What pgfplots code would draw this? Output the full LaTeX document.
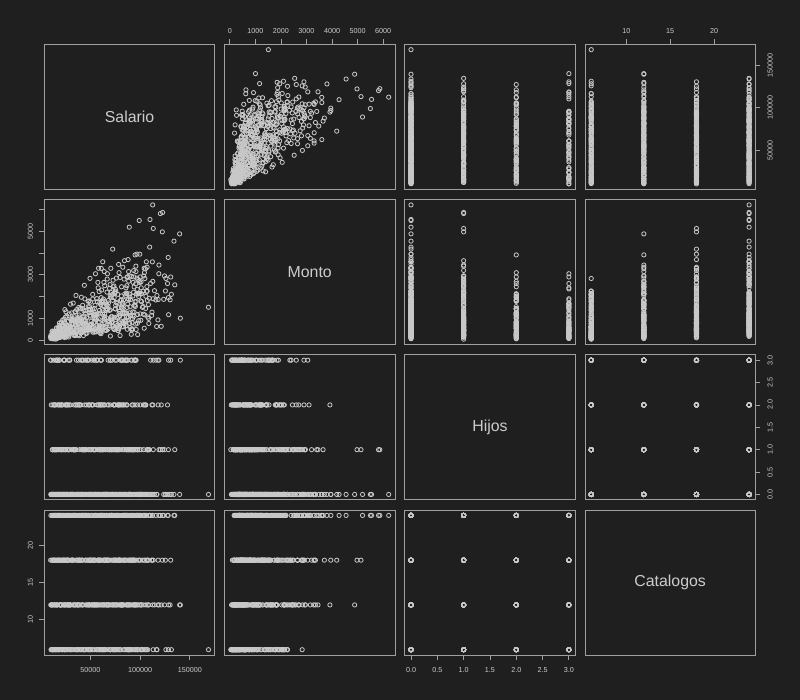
\documentclass[border=0pt]{standalone}
\usepackage{fontspec}
\setmainfont{Liberation Sans}
\usepackage{pgfplots}
\usepackage{pgfplotstable}
\pgfplotsset{compat=1.18}
\definecolor{bg}{HTML}{1F1F1F}
\definecolor{fg}{HTML}{C8C8C8}
\definecolor{frm}{HTML}{A0A0A0}
\definecolor{txt}{HTML}{CCCCCC}

\pgfplotstableread{
S M H C
11200 73 0 6
13500 133 1 6
15800 245 0 6
17100 95 2 6
19400 355 0 6
21700 229 1 6
23900 115 3 6
25600 410 0 6
28300 142 1 6
30900 400 0 6
33400 239 2 6
36100 377 3 6
38800 195 0 6
41500 387 0 6
44200 487 1 6
46700 316 0 6
49300 548 2 6
51800 567 0 6
54400 364 1 6
57100 454 3 6
59600 322 0 6
62300 633 1 6
64900 619 0 6
67500 842 2 6
70200 183 3 6
72800 646 0 6
75400 934 0 6
78100 430 1 6
80600 1231 0 6
83300 615 2 6
85900 653 0 6
88400 1053 1 6
91200 263 3 6
94100 1095 0 6
97300 768 1 6
101500 1765 0 6
12400 55 2 6
14900 92 3 6
18600 278 0 6
22300 168 0 6
26800 392 1 6
31700 368 0 6
35200 203 2 6
39900 599 0 6
43100 204 1 6
47800 586 0 6
52600 358 2 6
56300 560 3 6
60800 292 0 6
65400 584 0 6
69700 738 1 6
74100 481 0 6
79200 847 2 6
84600 892 0 6
89800 579 1 6
95500 733 3 6
104200 543 0 6
107800 1059 1 6
168800 1508 0 6
126000 2831 0 6
131500 2100 0 6
128500 1950 1 6
117000 2050 0 6
100800 1800 0 6
88200 1900 0 6
75500 1600 1 6
62900 1350 0 6
50300 1100 0 6
113200 1900 3 6
41200 880 0 6
30400 560 0 6
98500 2150 0 6
92700 2020 1 6
105600 1450 2 6
79900 205 0 6
97600 250 1 6
116700 623 0 6
15200 38 1 6
10800 147 2 12
12900 173 0 12
14200 293 1 12
16400 80 3 12
18900 362 0 12
20800 267 1 12
23300 650 0 12
25900 133 2 12
27700 207 3 12
29500 559 0 12
32600 320 0 12
34900 683 1 12
37500 594 0 12
40600 323 2 12
42900 895 0 12
45500 301 1 12
48200 457 3 12
50900 699 0 12
53300 1164 1 12
55800 381 0 12
58500 523 2 12
61100 599 3 12
63700 593 0 12
66200 1455 0 12
68800 888 1 12
71500 783 0 12
73900 1043 2 12
76600 579 0 12
79400 1131 1 12
81900 603 3 12
84700 2123 0 12
87200 495 1 12
90000 1125 0 12
92800 1136 2 12
96100 483 3 12
99400 2145 0 12
103100 1539 0 12
108600 993 1 12
114500 2270 0 12
121300 630 2 12
128700 1165 3 12
11700 198 0 12
15300 389 1 12
19800 151 0 12
24600 238 2 12
29100 304 3 12
33800 331 0 12
38200 872 0 12
42100 561 1 12
46300 521 0 12
51500 743 2 12
57400 440 0 12
62800 905 1 12
67900 504 3 12
72300 1826 0 12
77800 444 1 12
82500 1035 0 12
86900 1066 2 12
91700 462 3 12
97900 2114 0 12
139800 4885 0 12
140500 1003 3 12
95000 3917 2 12
88500 3150 0 12
76200 2850 1 12
105400 3280 0 12
64500 2500 0 12
58900 2230 1 12
112800 2700 2 12
124600 2950 1 12
130200 1850 0 12
48700 1800 0 12
54100 1450 3 12
118000 926 3 12
10100 155 3 18
13200 280 0 18
16100 528 1 18
18300 185 0 18
21200 276 2 18
24200 342 3 18
26900 359 0 18
30200 942 0 18
33100 603 1 18
35700 550 0 18
39300 777 2 18
41900 442 0 18
44800 889 1 18
47400 485 3 18
50200 1746 0 18
52900 416 1 18
55100 954 0 18
58000 982 2 18
60400 420 3 18
63200 1885 0 18
65800 1357 0 18
68300 864 1 18
70900 1944 0 18
73400 528 2 18
76000 1732 0 18
78800 1220 1 18
81200 1523 3 18
83900 762 0 18
86400 1250 1 18
89100 2121 0 18
92100 803 2 18
95200 1540 3 18
98600 2006 0 18
102400 1503 0 18
106900 2460 1 18
111700 1133 0 18
118200 1862 2 18
125500 2257 0 18
12000 413 1 18
17600 98 3 18
22800 421 0 18
27900 602 1 18
32000 420 0 18
36900 794 2 18
40800 474 3 18
45900 695 0 18
49700 1384 0 18
54000 477 1 18
59200 1362 0 18
64100 823 2 18
69300 2378 0 18
74800 580 1 18
80100 752 3 18
85600 2040 0 18
90900 963 1 18
96800 2847 0 18
113300 5133 1 18
122400 4977 1 18
72500 4183 0 18
82700 3350 0 18
93600 3200 1 18
67200 3050 0 18
104100 3300 0 18
130800 2900 3 18
57600 2650 0 18
61400 2300 1 18
88000 3700 0 18
99700 3950 0 18
49700 2839 0 18
58300 3300 0 18
25500 1300 0 18
11500 389 0 24
14000 169 2 24
16900 369 3 24
19100 518 0 24
22000 425 0 24
24900 747 1 24
27200 357 0 24
29900 607 2 24
32900 758 0 24
35400 1295 1 24
38100 240 3 24
40300 861 0 24
43600 1104 1 24
46100 718 0 24
48800 1254 2 24
51200 714 3 24
53900 985 0 24
56600 1906 0 24
59000 632 1 24
61700 1726 0 24
64400 1007 2 24
67000 2804 0 24
69500 659 1 24
72100 828 3 24
74600 2178 0 24
77300 1004 1 24
79900 2882 0 24
82800 1446 2 24
85100 843 3 24
87700 2914 0 24
90500 1127 0 24
93400 2195 1 24
96500 2133 0 24
100200 2903 2 24
104800 1156 0 24
109300 1919 1 24
115900 1842 3 24
123800 1872 0 24
134900 2538 1 24
13100 372 0 24
18000 248 2 24
23500 459 3 24
28600 374 0 24
34200 836 1 24
39100 893 0 24
44500 1892 0 24
50000 479 1 24
55500 1169 0 24
60100 1237 2 24
66300 1018 0 24
71000 2185 1 24
76400 1051 3 24
81700 1473 0 24
87000 2891 0 24
92400 977 1 24
99000 2733 0 24
112700 6217 0 24
120400 5820 1 24
122700 5870 1 24
110000 5546 0 24
99200 5500 0 24
89200 5193 0 24
134100 4550 0 24
109700 4275 0 24
78500 3480 0 24
95800 3400 1 24
84300 3650 1 24
70600 3300 0 24
106300 3600 0 24
64000 3150 0 24
118900 3050 3 24
128300 3800 0 24
127600 2600 2 24
44000 2517 0 24
41000 1967 1 24
30100 1650 0 24
35600 2050 0 24
55200 3050 0 24
62500 3600 0 24
96900 3954 0 24
61000 3297 0 24
10500 120 0 6
11900 210 1 12
12600 340 0 24
13800 95 2 6
14600 260 0 18
15500 410 1 24
16200 180 3 12
17800 520 0 24
18400 140 0 6
19700 300 2 18
20300 450 0 12
21100 230 1 6
22600 610 0 24
23200 170 3 18
24000 380 0 12
25300 290 1 6
26100 700 0 24
27000 210 2 12
28000 480 0 18
29200 330 1 6
10300 70 3 12
11400 160 0 18
12200 250 1 24
13300 60 0 6
14100 190 2 12
15000 310 0 24
16600 130 1 6
17300 240 0 18
18700 390 3 24
19300 110 0 12
20900 820 0 24
23700 950 1 18
26500 1100 0 24
31200 1250 0 18
33000 980 1 24
36400 1400 0 24
38900 1150 2 18
42300 1600 0 24
45200 1350 1 18
47900 1780 0 24
52400 2100 0 24
54800 1600 1 18
57900 2400 0 18
60900 1950 2 24
63600 2650 0 24
66800 2200 1 18
69900 2550 0 12
72900 2750 1 24
75100 2350 3 18
78900 3100 0 24
81400 2450 2 12
84000 2800 0 18
86800 2500 1 24
89600 2950 0 12
93000 2650 1 18
95900 3150 0 24
101200 2400 0 12
103700 2950 1 24
107200 2250 0 18
110600 2600 3 24
10900 137 0 12
14600 371 0 24
18300 306 1 6
22000 710 2 18
25700 179 0 24
29400 579 3 12
33100 911 1 18
36800 455 0 12
40500 1468 0 24
44200 757 2 6
47900 481 1 18
51600 1288 0 24
55300 1156 0 12
59000 817 1 18
62700 1806 2 12
66400 448 0 24
70100 1382 3 6
73800 2485 1 18
77500 670 0 24
81200 1836 0 12
84900 1239 2 18
88600 2708 1 12
92300 512 0 24
96000 1778 0 6
99700 2642 1 18
103400 1187 2 24
107100 3350 0 12
12700 253 3 18
16400 198 1 12
20100 532 0 24
23800 526 0 6
27500 408 2 18
31200 924 1 24
34900 259 0 12
38600 783 0 18
42300 1446 1 12
46000 418 2 24
49700 1143 0 6
53400 798 3 18
57100 1763 1 24
60800 354 0 12
64500 1211 0 18
68200 1823 2 12
71900 841 1 24
75600 2250 0 6
79300 1319 0 18
83000 797 1 24
86700 2131 2 12
90400 1858 0 18
94100 1273 3 12
97800 2788 1 24
11800 121 0 6
15500 345 0 18
19200 684 2 24
22900 233 1 12
26600 635 0 18
30300 474 0 12
34000 1070 1 24
37700 239 2 6
41400 795 0 18
45100 1223 3 24
48800 587 1 12
52500 1888 0 18
56200 949 0 12
59900 589 2 24
63600 1576 1 6
67300 1396 0 18
71000 973 0 24
74700 2142 1 12
78400 520 2 18
82100 1610 0 12
85800 2400 3 24
89500 766 1 6
13600 349 0 18
17300 292 0 24
21000 680 2 12
24700 174 1 18
28400 561 0 12
32100 885 0 24
35800 444 1 6
39500 1433 2 18
43200 741 0 24
46900 472 3 12
50600 1264 1 18
54300 1136 0 12
58000 804 0 24
61700 1778 2 6
65400 442 1 18
69100 1363 0 24
72800 2452 0 12
76500 662 1 18
80200 1814 2 12
83900 1225 0 24
87600 1650 3 6
91300 507 1 18
95000 1760 0 24
101000 2676 0 12
112000 1282 2 18
119000 3450 1 12
10400 216 0 24
12100 159 0 6
13900 384 1 18
15100 352 2 24
16800 268 0 12
18900 579 3 18
20600 174 1 12
22400 476 0 24
24200 849 0 6
26000 258 2 18
27900 664 1 24
29800 467 0 12
31600 998 0 18
33500 218 1 12
35500 689 2 24
37300 1020 0 6
41900 1048 3 18
45600 775 1 24
49300 1528 0 12
53000 636 0 18
56700 1191 2 12
60400 1631 1 24
64100 962 0 6
67800 1559 0 18
71500 2074 1 24
75200 1429 2 12
78900 789 0 18
82600 1700 3 12
86300 2158 1 24
90000 1530 0 6
93700 2905 0 18
97400 1169 2 24
101100 2123 1 12
104800 2830 0 18
108500 1628 0 12
62000 1426 1 24
70000 2030 2 6
78000 1482 0 18
86000 860 3 24
94000 2444 1 12
36300 508 0 18
39200 1058 1 12
42100 379 0 24
45000 945 0 6
47900 1533 2 24
50800 864 1 18
53700 1289 0 12
56600 679 3 24
59500 1726 0 6
62400 1186 0 24
65300 457 1 18
68200 1705 0 12
71100 1067 0 24
74000 1950 2 6
76900 1692 1 24
79800 1117 0 18
82700 1680 3 12
85600 770 0 24
88500 1859 0 6
91400 2925 1 24
94300 1603 0 18
97200 2333 1 12
100100 1201 0 24
103000 2250 0 6
105900 2012 2 24
108800 762 1 18
37700 943 0 12
40600 609 0 24
43500 1349 1 6
46400 1021 0 24
49300 690 0 18
52200 1409 2 12
55100 496 1 24
58000 1218 0 6
60900 1650 3 24
63800 1085 0 18
66700 1601 0 12
69600 835 1 24
72500 2103 0 6
75400 1433 0 24
78300 548 2 18
81200 2030 1 12
84100 1262 0 24
87000 1500 3 6
89900 1978 0 24
92800 1299 0 18
95700 2584 1 12
98600 887 0 24
101500 2132 0 6
104400 3100 2 24
107300 1824 1 18
37000 888 0 12
42800 514 3 24
48600 1409 0 6
54400 1034 0 24
60200 421 1 18
66000 1650 0 12
71800 1077 0 24
77600 2100 2 6
83400 1835 1 24
89200 1249 0 18
95000 1600 3 12
100800 907 0 24
106600 2239 0 6
112400 3597 0 24
16000 560 0 24
19000 780 1 18
22200 920 0 24
25000 1050 0 12
28800 1200 2 24
31900 760 0 18
34600 1300 1 24
38300 1500 0 18
27300 850 0 12
21600 640 0 18
32800 1700 0 24
24400 1400 0 24
}\data

\pgfplotsset{
  panel/.style={scale only axis, width=127.875pt, height=108.75pt,
    anchor=north west,
    axis line style={frm, line width=0.6pt},
    xtick=\empty, ytick=\empty, scaled ticks=false,
    tick style={frm, line width=0.6pt},
    tick align=outside, major tick length=3.75pt,
    ticklabel style={font=\fontsize{5.4pt}{6.5pt}\selectfont, text=txt, inner sep=0pt},
    /pgf/number format/assume math mode=true},
  xS/.style={xmin=3752, xmax=175148},
  yS/.style={ymin=3752, ymax=175148},
  xM/.style={xmin=-209, xmax=6464},
  yM/.style={ymin=-209, ymax=6464},
  xH/.style={xmin=-0.12, xmax=3.12},
  yH/.style={ymin=-0.12, ymax=3.12},
  xC/.style={xmin=5.28, xmax=24.72},
  yC/.style={ymin=5.28, ymax=24.72},
  pts/.style={only marks, mark=o, mark size=1.6pt, mark options={draw=fg, line width=0.6pt}},
  topt/.style={xtick pos=right, xticklabel pos=right, xticklabel style={yshift=4pt}},
  bott/.style={xtick pos=left, xticklabel pos=left, xticklabel style={yshift=-5.2pt}},
  leftt/.style={ytick pos=left, yticklabel pos=left, yticklabel style={rotate=90, anchor=south}, yticklabel shift=4.5pt},
  rightt/.style={ytick pos=right, yticklabel pos=right, yticklabel style={rotate=90, anchor=north}, yticklabel shift=5.2pt},
  diag/.style={panel, xmin=0, xmax=1, ymin=0, ymax=1},
}
\newcommand{\dlabel}[1]{\node[text=txt, font=\fontsize{11.9pt}{14pt}\selectfont] at (rel axis cs:0.5,0.5) {#1};}

\begin{document}
\begin{tikzpicture}
\fill[bg] (0pt,0pt) rectangle (600pt,-525pt);
% Row 1
\begin{axis}[diag, at={(33.225pt,-33.225pt)}]
\dlabel{Salario}
\end{axis}
\begin{axis}[panel, xM, yS, at={(168.375pt,-33.225pt)}, topt,
  xtick={0,1000,2000,3000,4000,5000,6000}, xticklabels={0,1000,2000,3000,4000,5000,6000}]
\addplot[pts] table[x=M, y=S] {\data};
\end{axis}
\begin{axis}[panel, xH, yS, at={(303.525pt,-33.225pt)}]
\addplot[pts] table[x=H, y=S] {\data};
\end{axis}
\begin{axis}[panel, xC, yS, at={(438.675pt,-33.225pt)}, topt, rightt,
  xtick={10,15,20}, xticklabels={10,15,20},
  ytick={50000,100000,150000}, yticklabels={50000,100000,150000}]
\addplot[pts] table[x=C, y=S] {\data};
\end{axis}
% Row 2
\begin{axis}[panel, xS, yM, at={(33.225pt,-149.6625pt)}, leftt,
  ytick={0,1000,2000,3000,4000,5000,6000}, yticklabels={0,1000,,3000,,5000,}]
\addplot[pts] table[x=S, y=M] {\data};
\end{axis}
\begin{axis}[diag, at={(168.375pt,-149.6625pt)}]
\dlabel{Monto}
\end{axis}
\begin{axis}[panel, xH, yM, at={(303.525pt,-149.6625pt)}]
\addplot[pts] table[x=H, y=M] {\data};
\end{axis}
\begin{axis}[panel, xC, yM, at={(438.675pt,-149.6625pt)}]
\addplot[pts] table[x=C, y=M] {\data};
\end{axis}
% Row 3
\begin{axis}[panel, xS, yH, at={(33.225pt,-266.1pt)}]
\addplot[pts] table[x=S, y=H] {\data};
\end{axis}
\begin{axis}[panel, xM, yH, at={(168.375pt,-266.1pt)}]
\addplot[pts] table[x=M, y=H] {\data};
\end{axis}
\begin{axis}[diag, at={(303.525pt,-266.1pt)}]
\dlabel{Hijos}
\end{axis}
\begin{axis}[panel, xC, yH, at={(438.675pt,-266.1pt)}, rightt,
  ytick={0,0.5,1,1.5,2,2.5,3}, yticklabels={0.0,0.5,1.0,1.5,2.0,2.5,3.0}]
\addplot[pts] table[x=C, y=H] {\data};
\end{axis}
% Row 4
\begin{axis}[panel, xS, yC, at={(33.225pt,-382.5375pt)}, bott, leftt,
  xtick={50000,100000,150000}, xticklabels={50000,100000,150000},
  ytick={10,15,20}, yticklabels={10,15,20}]
\addplot[pts] table[x=S, y=C] {\data};
\end{axis}
\begin{axis}[panel, xM, yC, at={(168.375pt,-382.5375pt)}]
\addplot[pts] table[x=M, y=C] {\data};
\end{axis}
\begin{axis}[panel, xH, yC, at={(303.525pt,-382.5375pt)}, bott,
  xtick={0,0.5,1,1.5,2,2.5,3}, xticklabels={0.0,0.5,1.0,1.5,2.0,2.5,3.0}]
\addplot[pts] table[x=H, y=C] {\data};
\end{axis}
\begin{axis}[diag, at={(438.675pt,-382.5375pt)}]
\dlabel{Catalogos}
\end{axis}
\end{tikzpicture}
\end{document}
